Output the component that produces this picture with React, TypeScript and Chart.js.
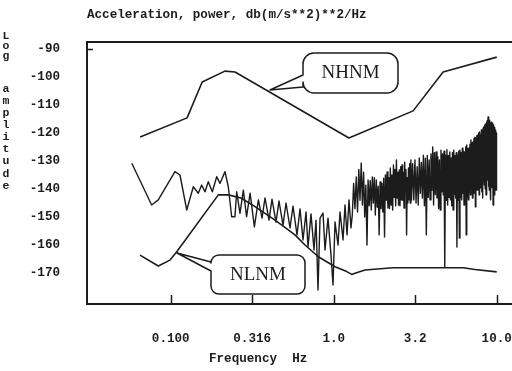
import React, { useEffect, useRef } from "react";
import { Chart, registerables } from "chart.js";

Chart.register(...registerables);

// ---------- data ----------
const nhnmFreq = [0.0649, 0.126, 0.156, 0.215, 0.248, 1.24, 3.07, 4.69, 10.0];
const nhnmDb = [-121.4, -114.6, -101.8, -97.9, -98.2, -121.8, -112.1, -98.2, -92.9];

const nlnmFreq = [0.0648, 0.0839, 0.099, 0.1089, 0.1959, 0.2257, 0.27, 0.329, 0.4364, 0.5788, 0.6667, 0.8045, 1.0186, 1.202, 1.29, 1.351, 1.556, 2.311, 6.22, 7.36, 10.0];
const nlnmDb = [-163.6, -167.5, -165.4, -162.4, -142.1, -142.1, -143.2, -146.3, -151.1, -156.4, -160.0, -164.2, -167.75, -169.5, -170.5, -170.1, -168.9, -168.1, -168.1, -168.75, -169.6];

// measured spectrum, low-frequency part
const noiseLowFreq = [
  0.0577, 0.0764, 0.0839, 0.1062, 0.114, 0.1254, 0.1376, 0.1477, 0.1549, 0.1623,
  0.17, 0.18, 0.1915, 0.2006, 0.2153, 0.2256, 0.2366, 0.2477, 0.254, 0.266,
  0.279, 0.292, 0.307, 0.326, 0.345,
  0.3632, 0.3789, 0.401, 0.4183, 0.4426, 0.4617, 0.4887, 0.5098, 0.5394, 0.5628,
  0.5954, 0.6213, 0.6482, 0.6763, 0.6956, 0.7255, 0.757, 0.7787, 0.801, 0.8241,
  0.8599, 0.8844, 0.9226, 0.9625, 0.9901, 1.0186, 1.0627, 1.0932, 1.1405, 1.173,
  1.2066, 1.2412, 1.2766,
];
const noiseLowDb = [
  -130.8, -145.7, -143.9, -133.8, -135.0, -147.5, -139.2, -141.5, -138.6, -141.0,
  -137.4, -141.0, -135.6, -138.0, -133.8, -139.2, -149.9, -149.9, -141.0, -148.7,
  -140.4, -149.9, -141.5, -153.5, -143.9,
  -150.4, -143.2, -151.1, -143.6, -151.8, -144.3, -152.9, -145.0, -153.9, -146.1,
  -156.4, -147.1, -158.2, -148.2, -160.7, -148.9, -161.8, -151.1, -176.1, -150.4,
  -148.6, -161.8, -150.4, -163.6, -174.3, -151.8, -160.0, -148.2, -158.2, -145.7,
  -156.4, -143.9, -153.9,
];

// middle part, 1.3 - 3.0 Hz
const noiseMidFreq = [
  1.3, 1.325, 1.35, 1.375, 1.4, 1.425, 1.45, 1.475, 1.5, 1.525,
  1.55, 1.575, 1.6, 1.625, 1.65, 1.675, 1.7, 1.725, 1.75, 1.775,
  1.8, 1.825, 1.85, 1.875, 1.9, 1.925, 1.95, 1.975, 2.0, 2.025,
  2.05, 2.075, 2.1, 2.125, 2.15, 2.175, 2.2, 2.225, 2.25, 2.275,
  2.3, 2.325, 2.35, 2.375, 2.4, 2.425, 2.45, 2.475, 2.5, 2.525,
  2.55, 2.575, 2.6, 2.625, 2.65, 2.675, 2.7, 2.725, 2.75, 2.775,
  2.8, 2.825, 2.85, 2.875, 2.9, 2.925, 2.95, 2.975, 3.0,
];
const noiseMidDb = [
  -149.3, -138.0, -147.0, -135.7, -148.2, -133.0, -144.0, -130.7, -145.7, -134.0,
  -150.0, -138.6, -160.0, -136.8, -146.0, -137.0, -147.5, -135.7, -145.0, -136.0,
  -149.3, -136.8, -146.5, -139.0, -156.4, -137.5, -147.0, -138.0, -148.2, -136.1,
  -157.1, -135.0, -144.0, -133.9, -146.8, -136.0, -147.0, -132.5, -145.7, -135.0,
  -147.5, -131.4, -143.0, -133.0, -146.0, -129.6, -143.2, -134.0, -145.7, -133.2,
  -146.0, -132.0, -143.9, -131.4, -144.0, -134.0, -146.8, -130.4, -141.0, -133.0,
  -156.4, -136.0, -145.0, -132.5, -143.9, -131.0, -145.0, -129.6, -144.0,
];

// high part, 3.05 - 10 Hz
const noiseHighFreq = [
  3.05, 3.1, 3.15, 3.2, 3.25, 3.3, 3.35, 3.4, 3.45, 3.5,
  3.55, 3.6, 3.65, 3.7, 3.75, 3.8, 3.85, 3.9, 3.95, 4.0,
  4.05, 4.1, 4.15, 4.2, 4.25, 4.3, 4.35, 4.4, 4.45, 4.5,
  4.55, 4.6, 4.65, 4.7, 4.75, 4.8, 4.85, 4.9, 4.95, 5.0,
  5.05, 5.1, 5.15, 5.2, 5.25, 5.3, 5.35, 5.4, 5.45, 5.5,
  5.55, 5.6, 5.65, 5.7, 5.75, 5.8, 5.85, 5.9, 5.95, 6.0,
  6.05, 6.1, 6.15, 6.2, 6.25, 6.3, 6.35, 6.4, 6.45, 6.5,
  6.55, 6.6, 6.65, 6.7, 6.75, 6.8, 6.85, 6.9, 6.95, 7.0,
  7.05, 7.1, 7.15, 7.2, 7.25, 7.3, 7.35, 7.4, 7.45, 7.5,
  7.55, 7.6, 7.65, 7.7, 7.75, 7.8, 7.85, 7.9, 7.95, 8.0,
  8.05, 8.1, 8.15, 8.2, 8.25, 8.3, 8.35, 8.4, 8.45, 8.5,
  8.55, 8.6, 8.65, 8.7, 8.75, 8.8, 8.85, 8.9, 8.95, 9.0,
  9.05, 9.1, 9.15, 9.2, 9.25, 9.3, 9.35, 9.4, 9.45, 9.5,
  9.55, 9.6, 9.65, 9.7, 9.75, 9.8, 9.85, 9.9, 9.95, 10.0,
];
const noiseHighDb = [
  -131.0, -143.9, -129.6, -145.0, -132.0, -145.7, -128.9, -141.5, -130.5, -143.2,
  -127.9, -146.0, -129.0, -156.4, -128.0, -143.0, -129.6, -143.9, -127.5, -140.5,
  -125.0, -145.7, -127.0, -142.0, -126.8, -143.2, -128.5, -147.0, -129.6, -147.5,
  -126.1, -141.0, -127.5, -142.1, -126.5, -167.9, -127.9, -144.0, -126.0, -145.7,
  -128.0, -143.0, -126.8, -143.9, -128.9, -146.0, -127.0, -147.5, -126.1, -142.0,
  -128.0, -143.2, -127.0, -160.7, -127.9, -144.0, -126.5, -157.5, -126.1, -143.0,
  -127.0, -143.9, -125.4, -141.5, -126.5, -145.7, -126.8, -142.0, -125.0, -156.4,
  -124.3, -143.0, -125.5, -143.9, -125.4, -141.0, -124.0, -142.1, -122.5, -140.0,
  -123.5, -143.2, -123.2, -141.5, -122.0, -141.1, -121.5, -146.4, -121.8, -139.0,
  -121.0, -140.4, -120.7, -138.5, -120.0, -142.1, -119.6, -137.0, -120.5, -139.6,
  -118.9, -141.0, -119.5, -143.2, -118.2, -137.5, -117.8, -138.6, -117.1, -140.0,
  -116.8, -142.1, -116.1, -137.0, -115.5, -136.8, -114.3, -139.0, -115.0, -140.4,
  -115.4, -138.0, -116.5, -143.9, -116.1, -139.5, -117.0, -138.6, -116.5, -145.7,
  -117.1, -141.0, -118.0, -142.1, -118.2, -139.0, -119.0, -140.4, -120.0, -138.0,
];

const xTickValues = [0.1, 0.316, 1.0, 3.16, 10.0];
const xTickLabels = ["0.100", "0.316", "1.0", "3.2", "10.0"];
const yTickValues = [-90, -100, -110, -120, -130, -140, -150, -160, -170];

const titleText = "Acceleration, power, db(m/s**2)**2/Hz";
const xTitleText = "Frequency  Hz";
const yTitleTop = "Log";
const yTitleBottom = "amplitude";
const highLabel = "NHNM";
const lowLabel = "NLNM";

const INK = "#1c1c1c";
const MONO = '"Liberation Mono", "DejaVu Sans Mono", monospace';

function toPoints(fs: number[], ds: number[]) {
  return fs.map((f, i) => ({ x: f, y: ds[i] }));
}

function drawCallout(
  ctx: CanvasRenderingContext2D,
  l: number, t: number, r: number, b: number, rad: number,
  wTop: number, wBot: number, tipX: number, tipY: number,
  text: string, tx: number, ty: number
) {
  ctx.save();
  ctx.beginPath();
  ctx.moveTo(l, wTop);
  ctx.lineTo(l, t + rad);
  ctx.arcTo(l, t, l + rad, t, rad);
  ctx.lineTo(r - rad, t);
  ctx.arcTo(r, t, r, t + rad, rad);
  ctx.lineTo(r, b - rad);
  ctx.arcTo(r, b, r - rad, b, rad);
  ctx.lineTo(l + rad, b);
  ctx.arcTo(l, b, l, b - rad, rad);
  ctx.lineTo(l, wBot);
  ctx.lineTo(tipX, tipY);
  ctx.closePath();
  ctx.fillStyle = "#ffffff";
  ctx.fill();
  ctx.strokeStyle = INK;
  ctx.lineWidth = 1.5;
  ctx.lineJoin = "round";
  ctx.stroke();
  ctx.fillStyle = INK;
  ctx.font = '19px "Liberation Serif", "DejaVu Serif", serif';
  ctx.textAlign = "center";
  ctx.textBaseline = "middle";
  ctx.fillText(text, tx, ty);
  ctx.restore();
}

const decorPlugin = {
  id: "decor",
  afterDraw(chart: any) {
    const ctx: CanvasRenderingContext2D = chart.ctx;
    const area = chart.chartArea;
    const xs = chart.scales.x;
    const ys = chart.scales.y;
    ctx.save();
    ctx.strokeStyle = INK;
    ctx.lineWidth = 2;
    ctx.beginPath();
    ctx.moveTo(area.left, area.top);
    ctx.lineTo(area.right, area.top);
    ctx.stroke();
    ctx.lineWidth = 1.5;
    ctx.beginPath();
    xTickValues.forEach((v) => {
      const px = Math.round(xs.getPixelForValue(v)) + 0.5;
      ctx.moveTo(px, area.bottom);
      ctx.lineTo(px, area.bottom - 9);
    });
    yTickValues.slice(0, 1).forEach((v) => {
      const py = Math.round(ys.getPixelForValue(v)) + 0.5;
      ctx.moveTo(area.left, py);
      ctx.lineTo(area.left + 6, py);
    });
    ctx.stroke();

    ctx.fillStyle = INK;
    ctx.font = `bold 12.6px ${MONO}`;
    ctx.textAlign = "left";
    ctx.textBaseline = "middle";
    ctx.fillText(titleText, 87, 15);
    ctx.fillText(xTitleText, 209, 359);

    ctx.font = `bold 11.5px ${MONO}`;
    ctx.textAlign = "center";
    const topYs = [36, 46, 56];
    yTitleTop.split("").forEach((c, i) => ctx.fillText(c, 6, topYs[i]));
    yTitleBottom.split("").forEach((c, i) => ctx.fillText(c, 6, 89 + i * 12.1));
    ctx.restore();

    drawCallout(ctx, 303, 53, 398, 93, 11, 75, 87, 270, 90, highLabel, 350.5, 73);
    drawCallout(ctx, 211, 255, 305, 294, 8, 262, 271, 177, 253, lowLabel, 258, 275);
  },
};

export default function App() {
  const ref = useRef<HTMLCanvasElement | null>(null);
  useEffect(() => {
    if (!ref.current) return;
    const lineDs = (data: any[], w: number) => ({
      data,
      showLine: true,
      borderColor: INK,
      borderWidth: w,
      pointRadius: 0,
      pointHoverRadius: 0,
      tension: 0,
      fill: false,
      borderJoinStyle: "round" as const,
    });
    const noisePoints = [
      ...toPoints(noiseLowFreq, noiseLowDb),
      ...toPoints(noiseMidFreq, noiseMidDb),
      ...toPoints(noiseHighFreq, noiseHighDb),
    ];
    const tickFont = { family: MONO, size: 12.6, weight: "bold" as const };
    const chart = new Chart(ref.current, {
      type: "scatter",
      data: {
        datasets: [
          lineDs(toPoints(nhnmFreq, nhnmDb), 1.6),
          lineDs(toPoints(nlnmFreq, nlnmDb), 1.6),
          lineDs(noisePoints, 1.4),
        ],
      },
      options: {
        responsive: false,
        animation: false,
        devicePixelRatio: 1,
        layout: { padding: { top: 42, left: 0, right: 0, bottom: 0 } },
        plugins: { legend: { display: false }, tooltip: { enabled: false }, title: { display: false } },
        scales: {
          x: {
            type: "logarithmic",
            min: 0.03065,
            max: 12.41,
            grid: { display: false, drawTicks: false },
            border: { display: true, color: INK, width: 2 },
            afterBuildTicks: (s: any) => {
              s.ticks = xTickValues.map((v) => ({ value: v }));
            },
            afterFit: (s: any) => {
              s.height = 67;
              s.paddingLeft = 0;
              s.paddingRight = 0;
            },
            ticks: {
              autoSkip: false,
              maxRotation: 0,
              padding: 27,
              color: INK,
              font: tickFont,
              callback: (_v: any, i: number) => xTickLabels[i],
            },
          },
          y: {
            type: "linear",
            min: -181.07,
            max: -87.5,
            grid: { display: false, drawTicks: false },
            border: { display: true, color: INK, width: 2 },
            afterBuildTicks: (s: any) => {
              s.ticks = yTickValues.map((v) => ({ value: v }));
            },
            afterFit: (s: any) => {
              s.width = 87;
              s.paddingTop = 0;
              s.paddingBottom = 0;
            },
            ticks: {
              padding: 27,
              color: INK,
              font: tickFont,
              callback: (v: any) => String(v),
            },
          },
        },
      },
      plugins: [decorPlugin],
    });
    return () => chart.destroy();
  }, []);
  return (
    <div style={{ position: "absolute", left: 0, top: 0, width: 512, height: 371, background: "#fff" }}>
      <canvas ref={ref} width={512} height={371} style={{ width: 512, height: 371 }} />
    </div>
  );
}
